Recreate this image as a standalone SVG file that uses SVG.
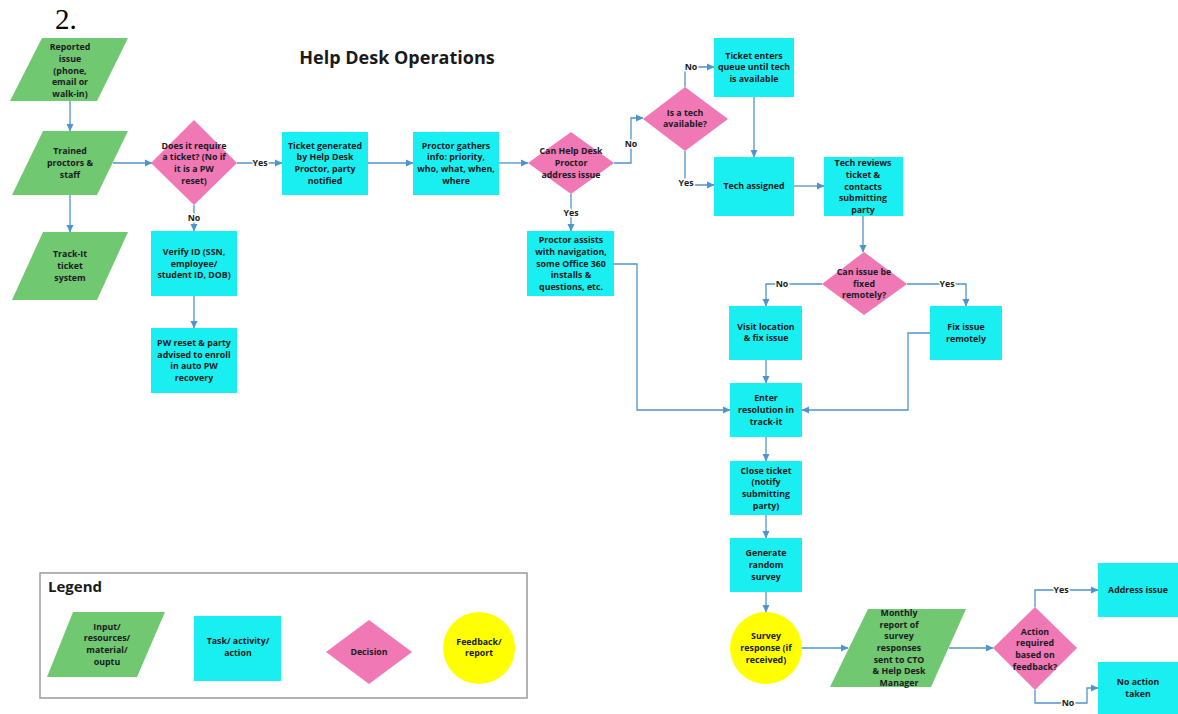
<svg xmlns="http://www.w3.org/2000/svg" width="1178" height="714" viewBox="0 0 1178 714">
<defs>
<marker id="arr" markerWidth="8" markerHeight="8" refX="7" refY="4" orient="auto" markerUnits="userSpaceOnUse">
<path d="M0,0.5 L7.5,4 L0,7.5 Z" fill="#4f94cd"/>
</marker>
<style>
.t{font-family:"Open Sans","Noto Sans",sans-serif;font-weight:700;font-size:8.8px;fill:#1a1a22;text-anchor:middle}
.lbl{font-family:"Open Sans","Noto Sans",sans-serif;font-weight:700;font-size:8.8px;fill:#1a1a22;text-anchor:middle;stroke:#fff;stroke-width:3;paint-order:stroke}
.io{fill:#70c870}
.task{fill:#19eff0}
.dec{fill:#f078b4}
.fb{fill:#ffff00}
.c{fill:none;stroke:#4f94cd;stroke-width:1.3;marker-end:url(#arr)}
.cn{fill:none;stroke:#4f94cd;stroke-width:1.3}
</style>
</defs>
<rect width="1178" height="714" fill="#fff"/>
<text x="55" y="29" font-family="Liberation Serif,serif" font-size="29px" fill="#000">2.</text>
<text x="397" y="64" font-family="Open Sans,sans-serif" font-weight="700" font-size="18px" fill="#1a1a1a" text-anchor="middle">Help Desk Operations</text>

<g id="connectors">
<path class="c" d="M70,101 V131"/>
<path class="c" d="M70,195 V232"/>
<path class="c" d="M113,163 H152"/>
<path class="c" d="M237,163 H282"/>
<path class="c" d="M194,205 V231"/>
<path class="c" d="M194,296 V328"/>
<path class="c" d="M368,163 H413"/>
<path class="c" d="M499,163 H528"/>
<path class="c" d="M614,163 H631 V118 H643"/>
<path class="c" d="M571,194 V231"/>
<path class="c" d="M685,87 V67 H714"/>
<path class="c" d="M685,151 V185 H714"/>
<path class="c" d="M754,97 V157"/>
<path class="c" d="M794,186 H824"/>
<path class="c" d="M863,216 V252"/>
<path class="c" d="M822,284 H766 V306"/>
<path class="c" d="M907,284 H966 V306"/>
<path class="c" d="M766,360 V383"/>
<path class="c" d="M930,333 H908 V410 H802"/>
<path class="c" d="M614,264 H637 V410 H730"/>
<path class="c" d="M766,437 V461"/>
<path class="c" d="M766,515 V538"/>
<path class="c" d="M766,592 V612"/>
<path class="c" d="M802,648 H848"/>
<path class="c" d="M949,648 H993"/>
<path class="c" d="M1035,607 V590 H1098"/>
<path class="c" d="M1035,690 V703 H1087 V688 H1098"/>
<text class="lbl" x="260" y="166">Yes</text>
<text class="lbl" x="194" y="221">No</text>
<text class="lbl" x="631" y="147">No</text>
<text class="lbl" x="571" y="216">Yes</text>
<text class="lbl" x="691" y="70">No</text>
<text class="lbl" x="686" y="186">Yes</text>
<text class="lbl" x="782" y="287">No</text>
<text class="lbl" x="947" y="287">Yes</text>
<text class="lbl" x="1061" y="593">Yes</text>
<text class="lbl" x="1068" y="706">No</text>
</g>

<g id="reported">
<polygon class="io" points="42,38 128,38 97,101 10,101"/>
<text class="t" x="70" y="50.1"><tspan x="70">Reported</tspan><tspan x="70" dy="11.7">issue</tspan><tspan x="70" dy="11.7">(phone,</tspan><tspan x="70" dy="11.7">email or</tspan><tspan x="70" dy="11.7">walk-in)</tspan></text>
</g>
<g id="trained">
<polygon class="io" points="43,131 128,131 97,195 12,195"/>
<text class="t" x="70" y="154.3"><tspan x="70">Trained</tspan><tspan x="70" dy="11.7">proctors &amp;</tspan><tspan x="70" dy="11.7">staff</tspan></text>
</g>
<g id="trackit">
<polygon class="io" points="43,232 128,232 97,300 12,300"/>
<text class="t" x="70" y="257.3"><tspan x="70">Track-It</tspan><tspan x="70" dy="11.7">ticket</tspan><tspan x="70" dy="11.7">system</tspan></text>
</g>
<g id="requireTicket">
<polygon class="dec" points="194,120 237,163 194,205 151,163"/>
<text class="t" x="194" y="148.5"><tspan x="194">Does it require</tspan><tspan x="194" dy="11.7">a ticket? (No if</tspan><tspan x="194" dy="11.7">it is a PW</tspan><tspan x="194" dy="11.7">reset)</tspan></text>
</g>
<g id="ticketGenerated">
<rect class="task" x="282" y="132" width="86" height="63"/>
<text class="t" x="325" y="148.5"><tspan x="325">Ticket generated</tspan><tspan x="325" dy="11.7">by Help Desk</tspan><tspan x="325" dy="11.7">Proctor, party</tspan><tspan x="325" dy="11.7">notified</tspan></text>
</g>
<g id="proctorGathers">
<rect class="task" x="413" y="132" width="86" height="63"/>
<text class="t" x="456" y="148.5"><tspan x="456">Proctor gathers</tspan><tspan x="456" dy="11.7">info: priority,</tspan><tspan x="456" dy="11.7">who, what, when,</tspan><tspan x="456" dy="11.7">where</tspan></text>
</g>
<g id="canHelpDesk">
<polygon class="dec" points="571,132 614,163 571,194 528,163"/>
<text class="t" x="571" y="154.3"><tspan x="571">Can Help Desk</tspan><tspan x="571" dy="11.7">Proctor</tspan><tspan x="571" dy="11.7">address issue</tspan></text>
</g>
<g id="proctorAssists">
<rect class="task" x="527" y="231" width="87" height="65"/>
<text class="t" x="571" y="243.1"><tspan x="571">Proctor assists</tspan><tspan x="571" dy="11.7">with navigation,</tspan><tspan x="571" dy="11.7">some Office 360</tspan><tspan x="571" dy="11.7">installs &amp;</tspan><tspan x="571" dy="11.7">questions, etc.</tspan></text>
</g>
<g id="verifyId">
<rect class="task" x="151" y="231" width="86" height="65"/>
<text class="t" x="194" y="254.8"><tspan x="194">Verify ID (SSN,</tspan><tspan x="194" dy="11.7">employee/</tspan><tspan x="194" dy="11.7">student ID, DOB)</tspan></text>
</g>
<g id="pwReset">
<rect class="task" x="151" y="328" width="86" height="65"/>
<text class="t" x="194" y="346"><tspan x="194">PW reset &amp; party</tspan><tspan x="194" dy="11.7">advised to enroll</tspan><tspan x="194" dy="11.7">in auto PW</tspan><tspan x="194" dy="11.7">recovery</tspan></text>
</g>
<g id="techAvailable">
<polygon class="dec" points="685,87 728,119 685,151 643,119"/>
<text class="t" x="685" y="115.6"><tspan x="685">Is a tech</tspan><tspan x="685" dy="11.7">available?</tspan></text>
</g>
<g id="ticketQueue">
<rect class="task" x="714" y="38" width="80" height="59"/>
<text class="t" x="754" y="58.6"><tspan x="754">Ticket enters</tspan><tspan x="754" dy="11.7">queue until tech</tspan><tspan x="754" dy="11.7">is available</tspan></text>
</g>
<g id="techAssigned">
<rect class="task" x="714" y="157" width="80" height="59"/>
<text class="t" x="754" y="189">Tech assigned</text>
</g>
<g id="techReviews">
<rect class="task" x="824" y="157" width="79" height="59"/>
<text class="t" x="863" y="166.1"><tspan x="863">Tech reviews</tspan><tspan x="863" dy="11.7">ticket &amp;</tspan><tspan x="863" dy="11.7">contacts</tspan><tspan x="863" dy="11.7">submitting</tspan><tspan x="863" dy="11.7">party</tspan></text>
</g>
<g id="fixRemotelyDecision">
<polygon class="dec" points="864,252 907,284 864,315 822,284"/>
<text class="t" x="864" y="275"><tspan x="864">Can issue be</tspan><tspan x="864" dy="11.7">fixed</tspan><tspan x="864" dy="11.7">remotely?</tspan></text>
</g>
<g id="visitLocation">
<rect class="task" x="729" y="306" width="73" height="54"/>
<text class="t" x="766" y="329.6"><tspan x="766">Visit location</tspan><tspan x="766" dy="11.7">&amp; fix issue</tspan></text>
</g>
<g id="fixRemotely">
<rect class="task" x="930" y="306" width="72" height="54"/>
<text class="t" x="966" y="330"><tspan x="966">Fix issue</tspan><tspan x="966" dy="11.7">remotely</tspan></text>
</g>
<g id="enterResolution">
<rect class="task" x="730" y="383" width="72" height="54"/>
<text class="t" x="766" y="401.3"><tspan x="766">Enter</tspan><tspan x="766" dy="11.7">resolution in</tspan><tspan x="766" dy="11.7">track-it</tspan></text>
</g>
<g id="closeTicket">
<rect class="task" x="730" y="461" width="72" height="54"/>
<text class="t" x="766" y="473.5"><tspan x="766">Close ticket</tspan><tspan x="766" dy="11.7">(notify</tspan><tspan x="766" dy="11.7">submitting</tspan><tspan x="766" dy="11.7">party)</tspan></text>
</g>
<g id="generateSurvey">
<rect class="task" x="730" y="538" width="72" height="54"/>
<text class="t" x="766" y="556.3"><tspan x="766">Generate</tspan><tspan x="766" dy="11.7">random</tspan><tspan x="766" dy="11.7">survey</tspan></text>
</g>
<g id="surveyResponse">
<circle class="fb" cx="766" cy="648" r="36"/>
<text class="t" x="766" y="639.3"><tspan x="766">Survey</tspan><tspan x="766" dy="11.7">response (if</tspan><tspan x="766" dy="11.7">received)</tspan></text>
</g>
<g id="monthlyReport">
<polygon class="io" points="868,609 966,609 931,687 830,687"/>
<text class="t" x="899" y="615.9"><tspan x="899">Monthly</tspan><tspan x="899" dy="11.7">report of</tspan><tspan x="899" dy="11.7">survey</tspan><tspan x="899" dy="11.7">responses</tspan><tspan x="899" dy="11.7">sent to CTO</tspan><tspan x="899" dy="11.7">&amp; Help Desk</tspan><tspan x="899" dy="11.7">Manager</tspan></text>
</g>
<g id="actionRequired">
<polygon class="dec" points="1035,607 1077,648 1035,690 993,648"/>
<text class="t" x="1035" y="634.5"><tspan x="1035">Action</tspan><tspan x="1035" dy="11.7">required</tspan><tspan x="1035" dy="11.7">based on</tspan><tspan x="1035" dy="11.7">feedback?</tspan></text>
</g>
<g id="addressIssue">
<rect class="task" x="1098" y="563" width="80" height="54"/>
<text class="t" x="1138" y="593">Address issue</text>
</g>
<g id="noAction">
<rect class="task" x="1098" y="662" width="80" height="52"/>
<text class="t" x="1138" y="685"><tspan x="1138">No action</tspan><tspan x="1138" dy="11.7">taken</tspan></text>
</g>

<g id="legend">
<rect x="40" y="573" width="487" height="125" fill="#fff" stroke="#9a9a9a" stroke-width="1.5"/>
<text x="48" y="592" font-family="Open Sans,sans-serif" font-weight="700" font-size="15px" fill="#1a1a1a">Legend</text>
<polygon class="io" points="73,612 165,612 137,677 47,677"/>
<text class="t" x="107" y="629.5"><tspan x="107">Input/</tspan><tspan x="107" dy="11.7">resources/</tspan><tspan x="107" dy="11.7">material/</tspan><tspan x="107" dy="11.7">ouptu</tspan></text>
<rect class="task" x="194" y="616" width="87" height="65"/>
<text class="t" x="238" y="644.2"><tspan x="238">Task/ activity/</tspan><tspan x="238" dy="11.7">action</tspan></text>
<polygon class="dec" points="369,620 412,652 369,684 326,652"/>
<text class="t" x="369" y="655">Decision</text>
<circle class="fb" cx="479" cy="648" r="36"/>
<text class="t" x="479" y="644.7"><tspan x="479">Feedback/</tspan><tspan x="479" dy="11.7">report</tspan></text>
</g>
</svg>
